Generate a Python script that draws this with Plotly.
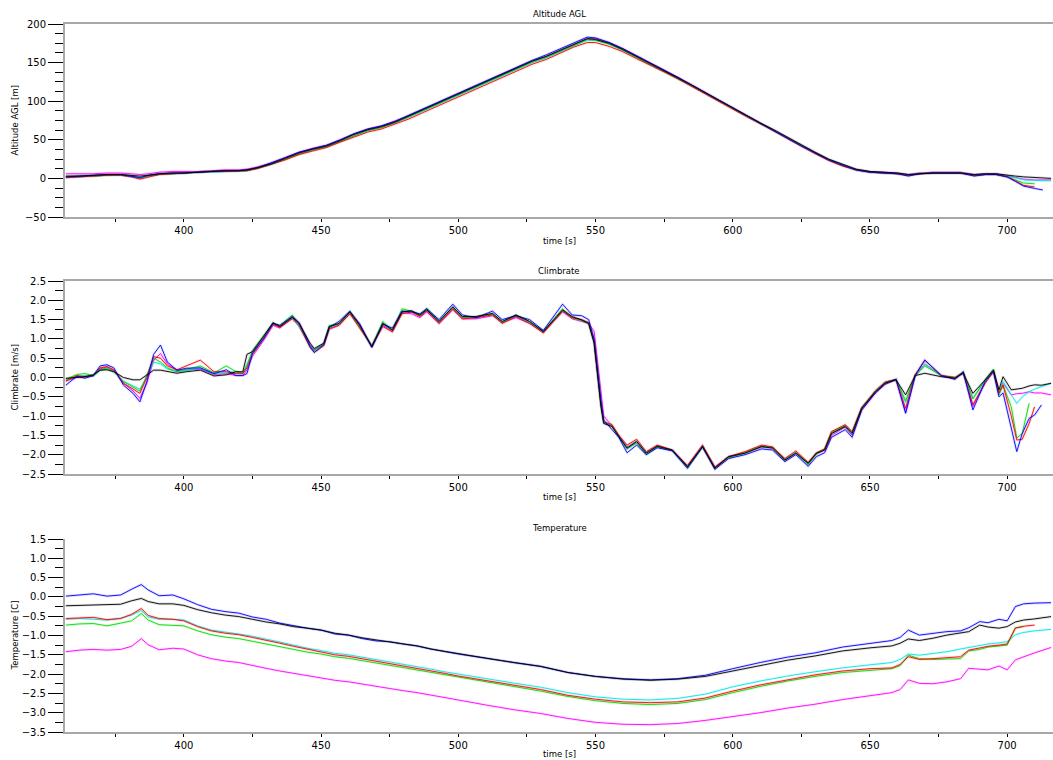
import plotly.graph_objects as go

# ---------------- Altitude AGL [m] ----------------
t_alt = [357, 362, 367, 372, 377, 381, 384, 387, 391, 396, 400, 405, 410, 415, 420, 423, 427, 432, 437, 442,
         447, 452, 457, 462, 467, 472, 477, 482, 487, 492, 497, 502, 507, 512, 517, 522, 527, 532, 537, 542,
         547, 550, 555, 560, 565, 570, 575, 580, 585, 590, 595, 600, 605, 610, 615, 620, 625, 630, 635, 640,
         645, 650, 655, 660, 664, 668, 673, 678, 683, 688, 692, 696, 700, 703, 706, 710, 713, 716]

alt_black = [3, 3, 4, 5, 5, 4, 3, 4, 6, 7, 7, 8, 9, 10, 10, 11, 14, 19, 26, 33,
             38, 42, 49, 57, 63, 67, 73, 81, 89, 97, 105, 113, 121, 129, 137, 145, 152, 158, 166, 174,
             181, 180, 175, 167, 158, 149, 140, 131, 121, 111, 101, 91, 81, 72, 63, 53, 43, 34, 25, 18,
             12, 9, 8, 7, 5, 6, 7, 7, 7, 5, 6, 6, 4, 3, 2, 1, 0, 0]
alt_blue = [2, 3, 4, 5, 5, 3, 1, 4, 6, 7, 7, 8, 9, 10, 10, 11, 14, 20, 27, 34,
            39, 43, 50, 58, 64, 68, 74, 82, 90, 98, 106, 114, 122, 130, 138, 146, 153, 160, 168, 176,
            183, 182, 176, 168, 159, 150, 141, 131, 121, 111, 101, 91, 81, 72, 62, 52, 42, 33, 24, 17,
            11, 8, 7, 6, 3, 6, 7, 7, 7, 3, 5, 5, 2, -4, -10, -13, -15, None]
alt_red = [1, 2, 3, 4, 4, 2, -1, 2, 5, 6, 7, 8, 9, 9, 10, 10, 13, 18, 24, 31,
           36, 40, 47, 54, 60, 64, 70, 77, 85, 93, 101, 109, 117, 125, 133, 141, 148, 154, 162, 170,
           176, 176, 171, 164, 155, 147, 138, 129, 119, 110, 100, 90, 80, 71, 61, 51, 41, 32, 23, 16,
           11, 8, 7, 6, 4, 6, 7, 7, 7, 4, 5, 5, 2, -3, -9, -11, None, None]
alt_cyan = [1, 2, 3, 4, 4, 2, 0, 3, 5, 6, 7, 8, 8, 9, 10, 10, 13, 18, 25, 32,
            37, 41, 48, 55, 62, 66, 72, 79, 87, 95, 103, 111, 119, 127, 135, 143, 150, 156, 164, 172,
            179, 179, 174, 166, 157, 148, 139, 130, 120, 110, 100, 90, 80, 71, 62, 52, 42, 33, 24, 17,
            11, 8, 7, 6, 4, 6, 7, 7, 7, 4, 5, 5, 3, 1, -2, -3, -3, -3]
alt_green = [2, 3, 3, 4, 5, 3, 1, 3, 5, 6, 7, 8, 9, 9, 10, 10, 13, 19, 25, 32,
             37, 41, 48, 56, 62, 66, 72, 80, 88, 96, 104, 112, 120, 128, 136, 144, 151, 157, 165, 173,
             180, 179, 174, 166, 157, 148, 139, 130, 120, 110, 100, 90, 80, 71, 62, 52, 42, 33, 24, 17,
             11, 8, 7, 6, 4, 6, 7, 7, 7, 4, 5, 5, 2, -2, -6, -7, None, None]
alt_magenta = [6, 6, 6, 7, 7, 6, 5, 6, 8, 9, 9, 9, 10, 11, 11, 12, 15, 20, 27, 34,
               39, 43, 50, 57, 64, 68, 74, 81, 89, 97, 105, 113, 121, 129, 137, 145, 152, 158, 166, 174,
               181, 181, 176, 168, 159, 150, 141, 131, 121, 111, 101, 91, 81, 72, 62, 52, 42, 33, 24, 17,
               11, 9, 8, 7, 5, 7, 8, 8, 8, 5, 6, 6, 3, 1, -1, -2, -2, -2]

# ---------------- Climbrate [m/s] ----------------
t_climb = [357, 361, 364, 367, 369.5, 372, 374.5, 378, 381.5, 384, 386.5, 389, 391.5, 394, 397.5, 401, 406, 411,
           415.5, 419, 421.5, 423, 425, 429, 432.5, 435, 439.5, 442, 446, 447.5, 451, 453, 456.5, 460.5, 464,
           468.5, 472.5, 476, 479.5, 483, 486, 488.5, 493, 498, 501.5, 506.5, 512.5, 516, 521, 526, 531, 538,
           541.5, 545, 547.5, 549.5, 552, 553, 556, 558.5, 561.5, 565, 568.5, 572.5, 578, 583.5, 589, 593.5,
           598.5, 604.5, 610.5, 614.5, 619, 623, 627.5, 630.5, 633.5, 636, 641, 643.5, 647, 652, 655.5, 659.5,
           663, 666.5, 670, 676, 681, 684, 687.5, 692, 695, 697, 698.5, 701.5, 703.5, 705.5, 708, 710, 712.5, 716]

climb_black = [-0.02, 0.00, 0.02, 0.07, 0.19, 0.20, 0.15, 0.00, -0.06, -0.06, 0.07, 0.19, 0.19, 0.15, 0.11,
               0.15, 0.19, 0.04, 0.07, 0.15, 0.15, 0.60, 0.67, 1.06, 1.42, 1.32, 1.56, 1.40, 0.89, 0.75,
               0.89, 1.32, 1.40, 1.70, 1.36, 0.80, 1.40, 1.23, 1.70, 1.73, 1.62, 1.75, 1.45, 1.83, 1.58,
               1.58, 1.66, 1.45, 1.62, 1.45, 1.19, 1.75, 1.58, 1.49, 1.40, 0.89, -0.76, -1.19, -1.27, -1.53,
               -1.83, -1.66, -1.96, -1.78, -1.88, -2.31, -1.79, -2.35, -2.05, -1.96, -1.79, -1.83, -2.14,
               -1.96, -2.22, -1.96, -1.88, -1.45, -1.27, -1.45, -0.80, -0.37, -0.15, -0.06, -0.45, 0.05,
               0.11, 0.02, -0.02, 0.11, -0.41, -0.06, 0.19, -0.32, 0.02, -0.32, -0.30, -0.28, -0.22, -0.19,
               -0.20, -0.15]
climb_blue = [-0.20, 0.03, -0.02, 0.05, 0.30, 0.33, 0.25, -0.20, -0.41, -0.63, -0.11, 0.60, 0.84, 0.40, 0.19,
              0.24, 0.25, 0.10, 0.20, 0.05, 0.05, 0.10, 0.63, 1.00, 1.40, 1.35, 1.58, 1.42, 0.80, 0.65,
              0.85, 1.30, 1.45, 1.72, 1.40, 0.78, 1.38, 1.28, 1.72, 1.70, 1.65, 1.78, 1.50, 1.90, 1.62,
              1.55, 1.72, 1.50, 1.60, 1.50, 1.22, 1.90, 1.62, 1.60, 1.50, 1.00, -0.60, -1.10, -1.35, -1.55,
              -1.95, -1.75, -2.00, -1.82, -1.90, -2.35, -1.80, -2.38, -2.10, -2.00, -1.85, -1.88, -2.18,
              -2.00, -2.30, -2.05, -1.95, -1.55, -1.35, -1.55, -0.85, -0.40, -0.18, -0.05, -0.93, 0.05,
              0.45, 0.05, -0.05, 0.15, -0.84, -0.10, 0.15, -0.50, -0.40, -1.30, -1.92, -1.45, -1.06, -0.97,
              -0.71, None]
climb_red = [-0.10, 0.05, 0.02, 0.05, 0.25, 0.28, 0.20, -0.15, -0.30, -0.41, 0.00, 0.54, 0.50, 0.30, 0.20,
             0.30, 0.45, 0.15, 0.15, 0.10, 0.10, 0.25, 0.60, 1.00, 1.38, 1.30, 1.52, 1.35, 0.78, 0.65,
             0.82, 1.25, 1.35, 1.65, 1.30, 0.82, 1.32, 1.18, 1.65, 1.70, 1.58, 1.72, 1.40, 1.78, 1.52,
             1.55, 1.62, 1.40, 1.58, 1.40, 1.15, 1.72, 1.55, 1.50, 1.42, 0.95, -0.70, -1.15, -1.22, -1.50,
             -1.75, -1.60, -1.92, -1.75, -1.88, -2.28, -1.75, -2.32, -2.05, -1.92, -1.75, -1.80, -2.10,
             -1.90, -2.20, -1.95, -1.85, -1.40, -1.22, -1.40, -0.78, -0.35, -0.12, -0.05, -0.80, 0.08,
             0.45, 0.05, 0.00, 0.12, -0.70, -0.15, 0.15, -0.40, -0.20, -1.00, -1.62, -1.60, -1.19, -0.76,
             None, None]
climb_cyan = [-0.05, 0.02, 0.05, 0.03, 0.18, 0.22, 0.15, -0.10, -0.22, -0.30, 0.00, 0.40, 0.35, 0.22, 0.15,
              0.18, 0.25, 0.10, 0.12, 0.15, 0.12, 0.35, 0.65, 1.05, 1.42, 1.32, 1.55, 1.30, 0.82, 0.70,
              0.88, 1.30, 1.38, 1.70, 1.30, 0.80, 1.40, 1.22, 1.72, 1.70, 1.60, 1.75, 1.45, 1.82, 1.55,
              1.55, 1.65, 1.45, 1.60, 1.42, 1.20, 1.72, 1.55, 1.48, 1.42, 0.92, -0.70, -1.15, -1.25, -1.52,
              -1.82, -1.65, -1.95, -1.78, -1.88, -2.32, -1.78, -2.35, -2.05, -1.95, -1.78, -1.82, -2.12,
              -1.95, -2.25, -1.98, -1.86, -1.45, -1.25, -1.45, -0.78, -0.35, -0.12, -0.05, -0.65, 0.05,
              0.35, 0.05, 0.00, 0.12, -0.55, -0.08, 0.15, -0.40, -0.10, -0.45, -0.67, -0.50, -0.37, -0.30,
              -0.24, -0.15]
climb_green = [-0.05, 0.08, 0.10, 0.05, 0.20, 0.25, 0.15, -0.10, -0.25, -0.35, 0.05, 0.50, 0.40, 0.25, 0.15,
               0.22, 0.30, 0.12, 0.30, 0.15, 0.10, 0.30, 0.70, 1.08, 1.40, 1.35, 1.62, 1.40, 0.80, 0.70,
               0.88, 1.35, 1.38, 1.68, 1.32, 0.82, 1.45, 1.22, 1.78, 1.72, 1.60, 1.80, 1.45, 1.80, 1.55,
               1.58, 1.65, 1.42, 1.62, 1.45, 1.20, 1.78, 1.55, 1.48, 1.40, 0.90, -0.72, -1.18, -1.25, -1.55,
               -1.85, -1.70, -2.00, -1.80, -1.90, -2.35, -1.80, -2.35, -2.08, -1.95, -1.78, -1.80, -2.15,
               -1.95, -2.25, -1.98, -1.85, -1.42, -1.25, -1.42, -0.78, -0.35, -0.12, -0.05, -0.60, 0.05,
               0.30, 0.05, 0.00, 0.15, -0.55, -0.05, 0.22, -0.45, -0.20, -0.76, -1.57, -1.45, -0.67, None,
               None, None]
climb_magenta = [-0.08, 0.00, 0.02, 0.05, 0.22, 0.28, 0.18, -0.15, -0.35, -0.54, -0.15, 0.45, 0.62, 0.35, 0.18,
                 0.20, 0.22, 0.08, 0.10, 0.05, 0.05, 0.20, 0.55, 0.95, 1.35, 1.28, 1.55, 1.42, 0.85, 0.72,
                 0.85, 1.28, 1.35, 1.65, 1.40, 0.78, 1.35, 1.20, 1.68, 1.65, 1.55, 1.70, 1.40, 1.75, 1.52,
                 1.52, 1.60, 1.42, 1.55, 1.40, 1.18, 1.70, 1.52, 1.45, 1.40, 1.20, -0.30, -1.00, -1.25, -1.50,
                 -1.80, -1.65, -1.95, -1.78, -1.88, -2.30, -1.78, -2.32, -2.05, -1.95, -1.80, -1.82, -2.12,
                 -1.95, -2.22, -1.98, -1.88, -1.50, -1.28, -1.50, -0.82, -0.40, -0.15, -0.05, -0.90, 0.05,
                 0.35, 0.05, -0.02, 0.12, -0.75, -0.10, 0.20, -0.40, -0.15, -0.45, -0.42, -0.41, -0.37, -0.40,
                 -0.40, -0.45]

# ---------------- Temperature [C] ----------------
t_temp = [357, 362, 367, 372, 377, 381, 384.5, 387, 391, 396, 400, 405, 410, 415, 420, 425, 430, 435, 440, 445,
          450, 455, 460, 465, 470, 475, 480, 485, 490, 495, 500, 510, 520, 530, 540, 550, 560, 570, 580, 590,
          600, 610, 620, 630, 640, 650, 658, 661, 664, 668, 673, 678, 683, 686, 690, 693, 697, 700, 703, 706,
          710, 716]

temp_blue = [0.02, 0.05, 0.08, 0.02, 0.05, 0.20, 0.32, 0.18, 0.03, 0.05, -0.05, -0.20, -0.32, -0.38, -0.42,
             -0.52, -0.58, -0.68, -0.75, -0.81, -0.86, -0.96, -0.99, -1.08, -1.14, -1.16, -1.22, -1.27, -1.35,
             -1.42, -1.48, -1.59, -1.70, -1.80, -1.96, -2.06, -2.12, -2.15, -2.12, -2.03, -1.86, -1.70, -1.56,
             -1.45, -1.30, -1.20, -1.13, -1.05, -0.86, -0.99, -0.95, -0.90, -0.88, -0.80, -0.64, -0.67, -0.58,
             -0.62, -0.25, -0.18, -0.16, -0.15]
temp_black = [-0.23, -0.22, -0.21, -0.20, -0.19, -0.10, -0.04, -0.12, -0.18, -0.18, -0.22, -0.33, -0.41, -0.47,
              -0.51, -0.58, -0.65, -0.70, -0.77, -0.81, -0.86, -0.94, -0.99, -1.06, -1.12, -1.16, -1.22, -1.27,
              -1.35, -1.41, -1.47, -1.59, -1.70, -1.80, -1.96, -2.06, -2.13, -2.16, -2.13, -2.06, -1.92, -1.78,
              -1.64, -1.53, -1.40, -1.32, -1.27, -1.20, -1.09, -1.13, -1.07, -0.99, -0.93, -0.90, -0.73, -0.78,
              -0.81, -0.77, -0.65, -0.60, -0.57, -0.51]
temp_red = [-0.56, -0.54, -0.53, -0.59, -0.56, -0.45, -0.30, -0.48, -0.56, -0.58, -0.62, -0.77, -0.88, -0.94,
            -0.98, -1.05, -1.12, -1.20, -1.28, -1.35, -1.42, -1.50, -1.54, -1.60, -1.66, -1.72, -1.78, -1.85,
            -1.92, -1.98, -2.05, -2.17, -2.28, -2.40, -2.55, -2.65, -2.72, -2.74, -2.72, -2.62, -2.44, -2.28,
            -2.15, -2.02, -1.92, -1.86, -1.84, -1.75, -1.55, -1.62, -1.60, -1.57, -1.55, -1.38, -1.33, -1.28,
            -1.25, -1.22, -0.81, -0.76, -0.73, None]
temp_cyan = [-0.58, -0.56, -0.58, -0.60, -0.55, -0.47, -0.35, -0.52, -0.58, -0.58, -0.60, -0.75, -0.86, -0.92,
             -0.96, -1.02, -1.09, -1.17, -1.25, -1.33, -1.39, -1.46, -1.50, -1.56, -1.62, -1.68, -1.73, -1.80,
             -1.87, -1.94, -2.00, -2.12, -2.23, -2.34, -2.48, -2.59, -2.65, -2.67, -2.63, -2.52, -2.33, -2.18,
             -2.05, -1.94, -1.84, -1.76, -1.70, -1.62, -1.48, -1.51, -1.46, -1.42, -1.35, -1.31, -1.26, -1.22,
             -1.19, -1.16, -0.98, -0.92, -0.88, -0.84]
temp_green = [-0.73, -0.70, -0.69, -0.75, -0.68, -0.62, -0.43, -0.60, -0.72, -0.73, -0.75, -0.88, -0.98, -1.04,
              -1.08, -1.15, -1.22, -1.28, -1.36, -1.43, -1.48, -1.55, -1.59, -1.65, -1.70, -1.76, -1.82, -1.88,
              -1.95, -2.02, -2.08, -2.20, -2.32, -2.44, -2.58, -2.69, -2.76, -2.79, -2.76, -2.66, -2.48, -2.32,
              -2.18, -2.06, -1.96, -1.90, -1.86, -1.78, -1.51, -1.60, -1.62, -1.61, -1.60, -1.40, -1.36, -1.30,
              -1.27, -1.25, -0.80, -0.77, None, None]
temp_magenta = [-1.42, -1.38, -1.36, -1.38, -1.36, -1.28, -1.08, -1.24, -1.37, -1.33, -1.35, -1.50, -1.60, -1.66,
                -1.70, -1.78, -1.85, -1.92, -1.98, -2.05, -2.11, -2.16, -2.20, -2.26, -2.32, -2.38, -2.43, -2.48,
                -2.54, -2.60, -2.67, -2.80, -2.92, -3.02, -3.15, -3.25, -3.30, -3.31, -3.28, -3.20, -3.10, -3.00,
                -2.88, -2.78, -2.66, -2.57, -2.48, -2.40, -2.15, -2.24, -2.25, -2.20, -2.12, -1.85, -1.87, -1.89,
                -1.79, -1.89, -1.63, -1.55, -1.45, -1.31]

panel_titles = ["Altitude AGL", "Climbrate", "Temperature"]
y_titles = ["Altitude AGL [m]", "Climbrate [m/s]", "Temperature [C]"]
x_title = "time [s]"

colors = {"magenta": "#ff00ff", "cyan": "#00e8e8", "green": "#00dd00",
          "red": "#ff0000", "blue": "#0000ff", "black": "#000000"}

panels = [
    (t_alt, {"magenta": alt_magenta, "cyan": alt_cyan, "green": alt_green,
             "red": alt_red, "blue": alt_blue, "black": alt_black}),
    (t_climb, {"magenta": climb_magenta, "cyan": climb_cyan, "green": climb_green,
               "red": climb_red, "blue": climb_blue, "black": climb_black}),
    (t_temp, {"magenta": temp_magenta, "cyan": temp_cyan, "green": temp_green,
              "red": temp_red, "blue": temp_blue, "black": temp_black}),
]

fig = go.Figure()
for i, (tt, series) in enumerate(panels):
    ax = "" if i == 0 else str(i + 1)
    for name, vals in series.items():
        # faint halo under each trace, then the thin line itself
        fig.add_trace(go.Scatter(x=tt, y=vals, mode="lines", xaxis="x" + ax, yaxis="y" + ax,
                                 line=dict(color=colors[name], width=2.6), opacity=0.12,
                                 hoverinfo="skip", showlegend=False))
        fig.add_trace(go.Scatter(x=tt, y=vals, mode="lines", xaxis="x" + ax, yaxis="y" + ax,
                                 line=dict(color=colors[name], width=0.9), name=name,
                                 showlegend=False))

# plot area: left 65 px, top 24 px, bottom 28 px in a 1053 x 760 page
H_PLOT = 708.0
def ydom(top_px, bot_px):
    return [(732 - bot_px) / H_PLOT, (732 - top_px) / H_PLOT]

domains = [ydom(24, 217), ydom(281, 474), ydom(539, 732)]
yranges = [[-50, 200], [-2.5, 2.5], [-3.5, 1.5]]
ydticks = [50, 0.5, 0.5]
yminor = [12.5, 0.25, 0.25]
yfmt = ["d", ".1f", ".1f"]

font_main = "DejaVu Sans, Verdana, sans-serif"
layout = dict(
    width=1053, height=760,
    margin=dict(l=65, r=0, t=24, b=28),
    paper_bgcolor="white", plot_bgcolor="white",
    font=dict(family=font_main, size=10, color="#000000"),
    showlegend=False,
    annotations=[],
)

for i in range(3):
    ax = "" if i == 0 else str(i + 1)
    layout["xaxis" + ax] = dict(
        domain=[0, 1], anchor="y" + ax, range=[356.7, 716.7],
        tickmode="linear", tick0=400, dtick=50, ticks="outside", ticklen=3, tickcolor="#000000",
        minor=dict(ticks="outside", ticklen=3, dtick=25, tick0=400, tickcolor="#000000"),
        showgrid=False, zeroline=False, showline=True, linecolor="#a8a8a8", linewidth=1.5,
        mirror=(i < 2), tickfont=dict(size=10, family=font_main),
    )
    layout["yaxis" + ax] = dict(
        domain=domains[i], anchor="x" + ax, range=yranges[i],
        tickmode="linear", tick0=0, dtick=ydticks[i], tickformat=yfmt[i],
        ticks="outside", ticklen=15, tickcolor="#000000", tickwidth=1,
        minor=dict(ticks="outside", ticklen=8, dtick=yminor[i], tick0=0, tickcolor="#000000"),
        showgrid=False, zeroline=False, showline=True, linecolor="#a8a8a8", linewidth=2,
        tickfont=dict(size=10, family=font_main),
    )

def py(px):
    return (732 - px) / H_PLOT

title_y = [14, 271, 528]
xlabel_y = [241, 497, 754]
ylabel_mid = [120.5, 377.5, 635.5]
for i in range(3):
    layout["annotations"].append(dict(
        text=panel_titles[i], xref="paper", yref="paper", x=0.5, y=py(title_y[i]),
        xanchor="center", yanchor="middle", showarrow=False,
        font=dict(size=8.5, family=font_main, color="#000000")))
    layout["annotations"].append(dict(
        text=x_title, xref="paper", yref="paper", x=0.5, y=py(xlabel_y[i]),
        xanchor="center", yanchor="middle", showarrow=False,
        font=dict(size=8.5, family=font_main, color="#000000")))
    layout["annotations"].append(dict(
        text=y_titles[i], xref="paper", yref="paper", x=(14 - 65) / 988.0, y=py(ylabel_mid[i]),
        xanchor="center", yanchor="middle", textangle=-90, showarrow=False,
        font=dict(size=8.5, family=font_main, color="#000000")))

fig.update_layout(**layout)
fig.write_html("out.html")
